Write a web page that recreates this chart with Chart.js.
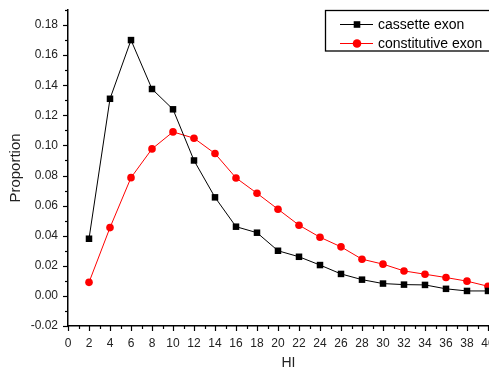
<!DOCTYPE html>
<html>
<head>
<meta charset="utf-8">
<script src="https://cdn.jsdelivr.net/npm/chart.js@4.4.0/dist/chart.umd.min.js"></script>
<style>
  html, body { margin: 0; padding: 0; background: #fff; overflow: hidden; }
  #wrap { width: 489px; height: 372px; overflow: hidden; }
</style>
</head>
<body>
<div id="wrap"><canvas id="chart" width="520" height="372"></canvas></div>
<script>
// HI values (x)
const hiValues = [2, 4, 6, 8, 10, 12, 14, 16, 18, 20, 22, 24, 26, 28, 30, 32, 34, 36, 38, 40];
const cassette = [0.038, 0.131, 0.170, 0.1375, 0.124, 0.090, 0.0655, 0.046, 0.042, 0.030,
                  0.026, 0.0205, 0.0146, 0.0108, 0.0082, 0.0075, 0.0073, 0.0047, 0.0033, 0.0033];
const constitutive = [0.009, 0.0454, 0.0786, 0.0977, 0.109, 0.1048, 0.0946, 0.0784, 0.0682, 0.0576,
                      0.047, 0.039, 0.0326, 0.0244, 0.0211, 0.0166, 0.0144, 0.0122, 0.0098, 0.0064];
const seriesNames = ['cassette exon', 'constitutive exon'];

const FONT = '"Liberation Sans", Arial, sans-serif';

const toPoints = (vals) => hiValues.map((x, i) => ({ x: x, y: vals[i] }));

// short/long tick marks drawn outward from the axes
const tickMarks = {
    id: 'tickMarks',
    afterDraw(chart) {
        const ctx = chart.ctx;
        ctx.save();
        ctx.strokeStyle = '#000';
        ctx.lineWidth = 1.2;
        const xs = chart.scales.x, ys = chart.scales.y;
        xs.ticks.forEach((t) => {
            const px = Math.round(xs.getPixelForValue(t.value)) + 0.5;
            const len = t.label !== '' ? 5 : 3;
            ctx.beginPath();
            ctx.moveTo(px, xs.top);
            ctx.lineTo(px, xs.top + len);
            ctx.stroke();
        });
        ys.ticks.forEach((t) => {
            const py = Math.round(ys.getPixelForValue(t.value)) + 0.5;
            const len = t.label !== '' ? 5 : 3;
            ctx.beginPath();
            ctx.moveTo(ys.right, py);
            ctx.lineTo(ys.right - len, py);
            ctx.stroke();
        });
        ctx.restore();
    }
};

// boxed legend in the top right corner
const boxLegend = {
    id: 'boxLegend',
    afterDraw(chart) {
        const ctx = chart.ctx;
        const left = 325.5, top = 10.5, bottom = 51;
        ctx.save();
        ctx.fillStyle = '#fff';
        ctx.fillRect(left, top, 200, bottom - top);
        ctx.strokeStyle = '#000';
        ctx.lineWidth = 1.3;
        ctx.strokeRect(left, top, 200, bottom - top);
        ctx.font = '14px ' + FONT;
        ctx.textBaseline = 'middle';
        chart.data.datasets.forEach((ds, i) => {
            const y = 24 + i * 19;
            ctx.strokeStyle = ds.borderColor;
            ctx.lineWidth = 1;
            ctx.beginPath();
            ctx.moveTo(340, y + 0.5);
            ctx.lineTo(373, y + 0.5);
            ctx.stroke();
            ctx.fillStyle = ds.pointBackgroundColor;
            ctx.beginPath();
            if (ds.pointStyle === 'rect') {
                ctx.rect(357 - 3.3, y - 3.3 + 0.5, 6.6, 6.6);
            } else {
                ctx.arc(357, y + 0.5, ds.pointRadius + 0.5, 0, Math.PI * 2);
            }
            ctx.fill();
            ctx.fillStyle = '#000';
            ctx.fillText(ds.label, 378, y + 1);
        });
        ctx.restore();
    }
};

new Chart(document.getElementById('chart'), {
    type: 'line',
    data: {
        datasets: [
            {
                label: seriesNames[0],
                data: toPoints(cassette),
                borderColor: '#000',
                backgroundColor: '#000',
                pointBackgroundColor: '#000',
                pointBorderWidth: 0,
                pointStyle: 'rect',
                pointRadius: 4.6,
                borderWidth: 1,
                tension: 0,
            },
            {
                label: seriesNames[1],
                data: toPoints(constitutive),
                borderColor: '#ff0000',
                backgroundColor: '#ff0000',
                pointBackgroundColor: '#ff0000',
                pointBorderWidth: 0,
                pointStyle: 'circle',
                pointRadius: 3.8,
                borderWidth: 1,
                tension: 0,
            },
        ],
    },
    options: {
        responsive: false,
        animation: false,
        layout: { padding: { top: 10, right: 11, left: 0, bottom: 0 } },
        plugins: { legend: { display: false }, tooltip: { enabled: false } },
        scales: {
            x: {
                type: 'linear',
                min: 0,
                max: 42,
                afterFit: (scale) => {
                    scale.height = 46;
                    scale.paddingLeft = 0;
                    scale.paddingRight = 0;
                },
                grid: { display: false, drawTicks: false },
                border: { display: true, color: '#000', width: 1.5 },
                ticks: {
                    stepSize: 1,
                    autoSkip: false,
                    maxRotation: 0,
                    padding: 10,
                    color: '#222',
                    font: { family: FONT, size: 12 },
                    callback: (v) => (Math.round(v) % 2 === 0 ? String(Math.round(v)) : ''),
                },
                title: {
                    display: true,
                    text: 'HI',
                    color: '#222',
                    font: { family: FONT, size: 14 },
                    padding: { top: 0, bottom: 0 },
                },
            },
            y: {
                min: -0.02,
                max: 0.19,
                afterFit: (scale) => {
                    scale.width = 68;
                    scale.paddingTop = 0;
                    scale.paddingBottom = 0;
                },
                grid: { display: false, drawTicks: false },
                border: { display: true, color: '#000', width: 1.5 },
                ticks: {
                    stepSize: 0.01,
                    autoSkip: false,
                    padding: 10,
                    color: '#222',
                    font: { family: FONT, size: 12 },
                    callback: (v) => (Math.round(v * 100) % 2 === 0 ? v.toFixed(2) : ''),
                },
                title: {
                    display: true,
                    text: 'Proportion',
                    color: '#222',
                    font: { family: FONT, size: 15 },
                    padding: { top: 7, bottom: 0 },
                },
            },
        },
    },
    plugins: [tickMarks, boxLegend],
});
</script>
</body>
</html>
